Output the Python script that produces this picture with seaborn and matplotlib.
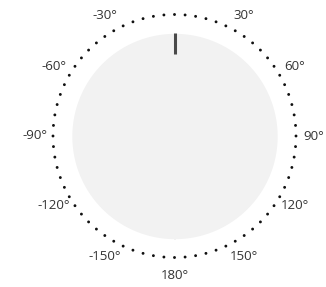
import numpy as np
import matplotlib
matplotlib.use("Agg")
import matplotlib.pyplot as plt
import seaborn as sns
import pandas as pd

sns.set_style("white")
plt.rcParams['font.family'] = ['Open Sans', 'DejaVu Sans']

# data
dot_angles = list(range(0, 360, 5))                     # minor dots every 5 degrees
label_angles = [-150, -120, -90, -60, -30, 30, 60, 90, 120, 150, 180]
label_texts = ["-150°", "-120°", "-90°", "-60°", "-30°", "30°", "60°", "90°", "120°", "150°", "180°"]
needle_value = 0

W, H = 326, 287
fig = plt.figure(figsize=(W / 100, H / 100), dpi=100)
cx, cy, R = 174.5, 151.0, 121.5
ax = fig.add_axes([(cx - R) / W, (cy - R) / H, 2 * R / W, 2 * R / H], projection='polar')
ax.set_theta_zero_location('N')
ax.set_theta_direction(-1)
ax.set_ylim(0, 1)
ax.set_axis_off()

# pane background
th = np.linspace(0, 2 * np.pi, 300)
ax.fill_between(th, 0, 0.845, color='#f2f2f2', lw=0, zorder=1)

# dots
df = pd.DataFrame({'theta': np.deg2rad(dot_angles), 'r': 1.0})
sns.scatterplot(data=df, x='theta', y='r', ax=ax, s=4.2, color='#111111',
                edgecolor='none', zorder=3, clip_on=False, legend=False)

# needle tick
t = np.deg2rad(needle_value)
ax.plot([t, t], [0.675, 0.848], color='#4a4a4a', lw=2.2, solid_capstyle='butt', zorder=4)

# labels
for a, s in zip(label_angles, label_texts):
    rr = 1.145
    ax.text(np.deg2rad(a), rr, s, ha='center', va='center', fontsize=9.5,
            color='#333333', clip_on=False)

fig.savefig('out.png', dpi=100)
